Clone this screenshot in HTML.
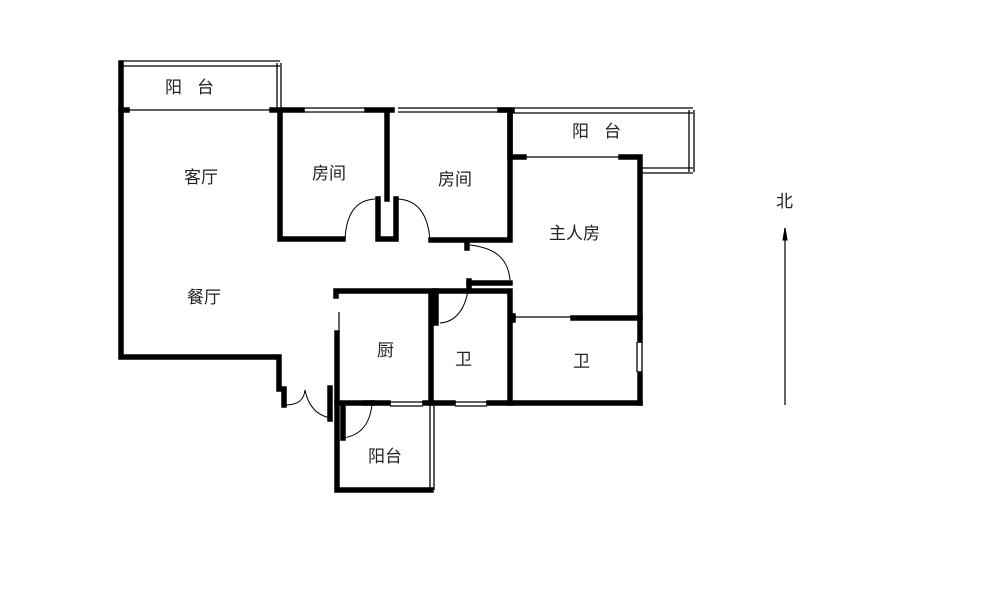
<!DOCTYPE html>
<html><head><meta charset="utf-8"><style>
html,body{margin:0;padding:0;background:#fff;}
svg{display:block}
text{font-family:"Liberation Sans","Noto Sans CJK SC",sans-serif;font-size:17px;fill:#222}
</style></head><body>
<svg width="1000" height="597" viewBox="0 0 1000 597" xmlns="http://www.w3.org/2000/svg">
<g fill="none" stroke="#000">
<g stroke-width="1.3">
<path d="M121 61H280M121 66H280"/>
<path d="M277 63V108M281 63V108"/>
<path d="M303 108H366M303 112H366"/>
<path d="M398 108H512M398 112H512"/>
<path d="M512 108H693M512 113H693"/>
<path d="M689 110V172M694 110V172"/>
<path d="M642 168H693M642 173H693"/>
<path d="M390 402H423M390 406H423M455 402H487M455 406H487"/>
<path d="M430 406V490M434 406V490"/>
<path d="M637 342V372M642 342V372"/>
</g>
<g stroke-width="1.2">
<path d="M128 110H278"/>
<path d="M525 157H620"/>
<path d="M515 317H572"/>
<path d="M339 312V333"/>
<path d="M785 228V405"/>
</g>
<g stroke-width="1">
<path d="M345 240C346 215 355 200 375 199"/>
<path d="M398 199C418 200 428 215 430 240"/>
<path d="M470 245C495 248 508 258 510 280"/>
<path d="M468 290C465 310 455 322 440 323"/>
<path d="M285 405C298 405 304 400 305 390C308 405 316 415 330 418"/>
<path d="M342 438C360 436 370 425 372 404"/>
</g>
<g stroke-width="5.5" stroke-linejoin="miter" stroke-linecap="square">
<path d="M121 63V357H279V389H284V405"/>
<path d="M121 110H127"/>
<path d="M272 110H302M367 110H392M500 110H512"/>
<path d="M280 112V239H343"/>
<path d="M387 112V199M378 199V239H396V199"/>
<path d="M431 240H510V112"/>
<path d="M510 112V157H524M621 157H640V340"/>
<path d="M640 374V403"/>
<path d="M467 244V248"/>
<path d="M469 283H510"/>
<path d="M469 281V286"/>
<path d="M336 291H431V403M336 291V296"/>
<path d="M435 291H510V403"/>
<path d="M436 291V323"/>
<path d="M573 318H640"/>
<path d="M337 403H388M425 403H453M489 403H640"/>
<path d="M513 316V320"/>
<path d="M330 388V419"/>
<path d="M337 333V490H431"/>
<path d="M343 404V438"/>
<path d="M366 403H372"/>
</g>
<path d="M785 228L783 240H787Z" fill="#000" stroke-width="1"/>
</g>
<text x="165" y="93">阳</text><text x="197" y="93">台</text>
<text x="184" y="183">客厅</text>
<text x="312" y="179">房间</text>
<text x="438" y="185">房间</text>
<text x="572" y="137">阳</text><text x="604" y="137">台</text>
<text x="549" y="239">主人房</text>
<text x="187" y="303">餐厅</text>
<text x="377" y="356">厨</text>
<text x="455" y="365">卫</text>
<text x="573" y="367">卫</text>
<text x="368" y="462">阳台</text>
<text x="776" y="207">北</text>
</svg>
</body></html>
